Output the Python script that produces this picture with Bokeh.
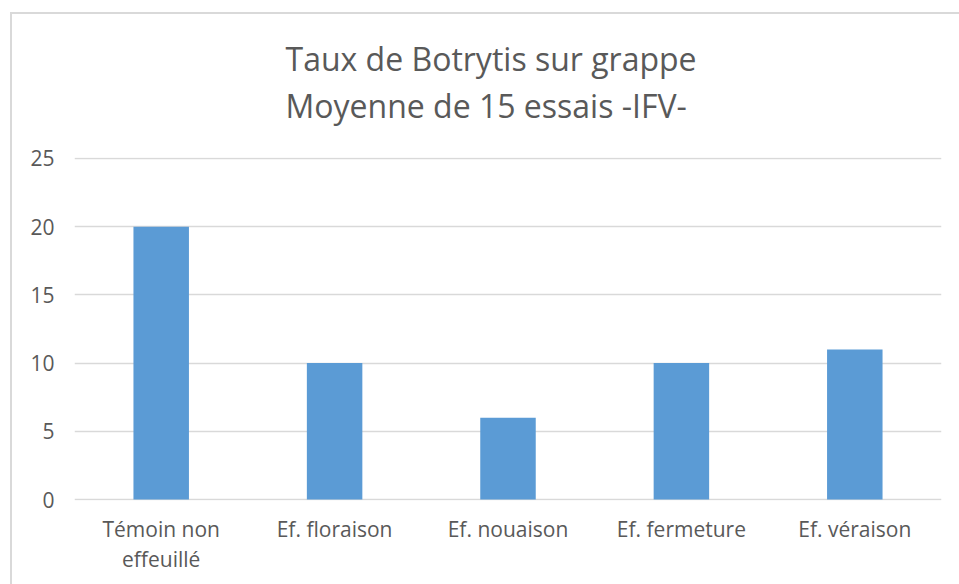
from bokeh.plotting import figure
from bokeh.models import Range1d, FixedTicker
from bokeh.embed import file_html
from bokeh.resources import INLINE

categories = ["Témoin non\neffeuillé", "Ef. floraison", "Ef. nouaison", "Ef. fermeture", "Ef. véraison"]
values = [20, 10, 6, 10, 11]
y_ticks = [0, 5, 10, 15, 20, 25]
title_text = "Taux de Botrytis sur grappe\nMoyenne de 15 essais -IFV-"

FONT = "Open Sans"
GRAY = "#595959"
EDGE = "#d9d9d9"

p = figure(x_range=categories, y_range=Range1d(-0.073, 25.073),
           width=959, height=584, output_backend="svg", toolbar_location=None,
           min_border_left=74, min_border_right=18, min_border_top=157, min_border_bottom=84)
# chart-area edge (top and left), visible through a transparent border fill
p.border_fill_alpha = 0
p.styles = {
    "background": (f"linear-gradient({EDGE},{EDGE}) 10px 12px / 2000px 2px no-repeat, "
                   f"linear-gradient({EDGE},{EDGE}) 10px 12px / 2px 2000px no-repeat, white"),
}

p.vbar(x=categories, top=values, width=0.32, color="#5B9BD5", line_color=None)

p.title.text = title_text
p.title.align = "left"
p.title.offset = 211
p.title.text_font = FONT
p.title.text_font_size = "32px"
p.title.text_font_style = "normal"
p.title.text_color = GRAY
p.title.text_line_height = 1.1
p.title.standoff = 60

p.outline_line_color = None
p.xgrid.grid_line_color = None
p.ygrid.grid_line_color = EDGE
p.ygrid.grid_line_width = 1.5
p.yaxis.ticker = FixedTicker(ticks=y_ticks)
p.yaxis.axis_line_color = None
p.xaxis.axis_line_color = None
for ax in (p.xaxis, p.yaxis):
    ax.major_tick_line_color = None
    ax.minor_tick_line_color = None
    ax.major_label_text_font = FONT
    ax.major_label_text_font_size = "21px"
    ax.major_label_text_color = GRAY
    ax.major_label_text_line_height = 1.1
p.yaxis.major_label_standoff = 14
p.xaxis.major_label_standoff = 8

open("out.html", "w").write(file_html(p, INLINE))
